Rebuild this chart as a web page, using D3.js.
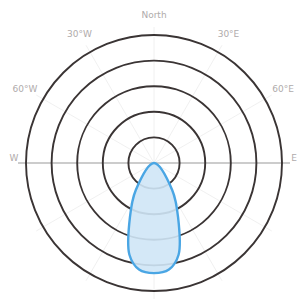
<!DOCTYPE html>
<html>
<head>
<meta charset="utf-8">
<script src="https://cdn.jsdelivr.net/npm/d3@7"></script>
<style>
  body { margin: 0; background: #fff; }
  svg { display: block; }
</style>
</head>
<body>
<div id="chart"></div>
<script>
let width = 303;
let height = 308;
let cx = 154;
let cy = 163;
let outer = 128;

// 12 directions, every 30 degrees, clockwise from top
let directions = ["North", "30°E", "60°E", "E", "120°E", "150°E", "South", "150°W", "120°W", "W", "60°W", "30°W"];
let showLabel = [true, true, true, true, false, false, false, false, false, true, true, true];
let ringTicks = [1, 2, 3, 4, 5];

// outline of the blue petal: bearing (deg) and value
let petalAngles = [0, 146, 156, 165, 172, 180, 188, 195, 204, 214];
let petalValues = [0, 1.27, 2.31, 3.71, 4.2, 4.3, 4.2, 3.71, 2.31, 1.27];

let svg = d3.select("#chart").append("svg")
    .attr("width", width).attr("height", height);

let rScale = d3.scaleLinear().domain([0, 5]).range([0, outer]);
let aScale = d3.scaleBand().domain(directions).range([0, 2 * Math.PI]);
let angle = d => aScale(d);
let rad = d3.scaleLinear().domain([0, 360]).range([0, 2 * Math.PI]);

let g = svg.append("g").attr("transform", `translate(${cx},${cy})`);

// spokes
g.selectAll(".spoke").data(directions).join("line")
    .attr("class", "spoke")
    .attr("x1", 0).attr("y1", 0)
    .attr("x2", d => Math.sin(angle(d)) * (outer + 8))
    .attr("y2", d => -Math.cos(angle(d)) * (outer + 8))
    .attr("stroke", (d, i) => (i == 3 || i == 9) ? "#9a9a9a" : "#ececec")
    .attr("stroke-width", (d, i) => (i == 3 || i == 9) ? 1.2 : 0.8);

// rings
g.selectAll(".ring").data(ringTicks).join("circle")
    .attr("class", "ring")
    .attr("r", d => rScale(d))
    .attr("fill", "none")
    .attr("stroke", "#3a3434")
    .attr("stroke-width", 1.9);

// petal
let line = d3.lineRadial()
    .angle((d, i) => rad(petalAngles[i]))
    .radius(d => rScale(d))
    .curve(d3.curveCatmullRomClosed.alpha(0.5));

g.append("path").datum(petalValues)
    .attr("d", line)
    .attr("fill", "#cfe5f6")
    .attr("fill-opacity", 0.9)
    .attr("stroke", "#4aa6e4")
    .attr("stroke-width", 2.4)
    .attr("stroke-linejoin", "round");

// labels
let side = d => d == "E" || d == "W";
g.selectAll(".label").data(directions.filter((d, i) => showLabel[i])).join("text")
    .attr("class", "label")
    .attr("x", d => Math.sin(angle(d)) * (side(d) ? outer + 12 : outer + 21))
    .attr("y", d => -Math.cos(angle(d)) * (outer + 20) - (side(d) ? 5 : 0))
    .attr("text-anchor", "middle")
    .attr("dominant-baseline", "middle")
    .attr("font-family", "DejaVu Sans, sans-serif")
    .attr("font-size", 9)
    .attr("fill", "#b0abab")
    .text(d => d);
</script>
</body>
</html>
